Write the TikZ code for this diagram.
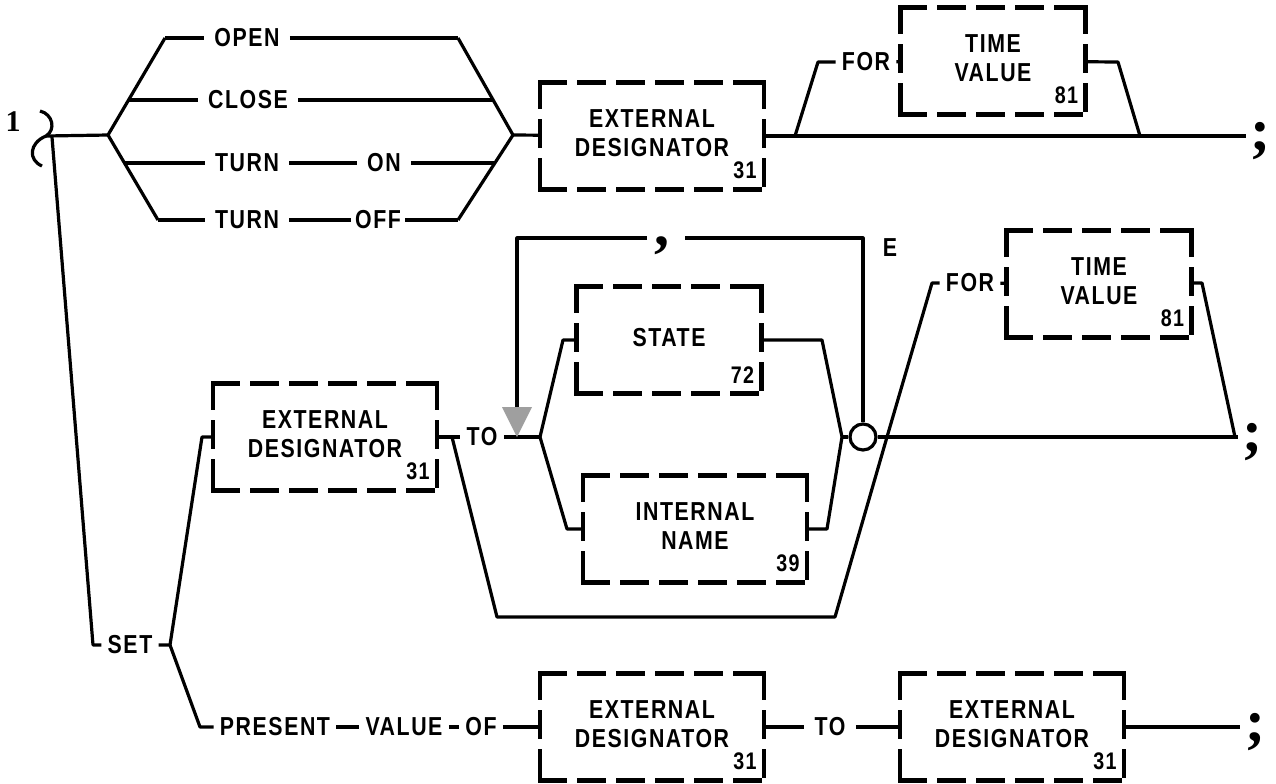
\documentclass[tikz,border=0pt]{standalone}
\usepackage{fontspec}
\setmainfont{Liberation Sans}[FakeStretch=0.82, LetterSpace=6]
\newfontfamily\oldserif{Liberation Serif}

\tikzset{
  wire/.style={line width=1.6pt, line join=round},
  word/.style={font=\bfseries\fontsize{13}{14.5}\selectfont, inner xsep=5pt, inner ysep=1pt},
  dbox/.style={word, align=center, inner sep=0pt, outer sep=0pt, minimum height=53.5pt,
    execute at end node={\rule[-2.5pt]{0pt}{2.5pt}}},
  widebox/.style={dbox, minimum width=112pt},
  narrowbox/.style={dbox, minimum width=92.5pt},
  boxline/.style={line width=2.2pt, line cap=rect, dash pattern=on 12.3pt off 7.2pt},
  num/.style={font=\bfseries\fontsize{12}{12}\selectfont, inner sep=0pt, anchor=south east},
  stopmark/.style={font=\oldserif\bfseries\fontsize{30}{30}\selectfont, inner sep=0pt, anchor=base west},
  ring/.style={circle, draw, line width=1.6pt, minimum size=13pt, inner sep=0pt, fill=white},
}
\newcommand\dashframe[1]{%
  \draw[boxline] (#1.north west) -- (#1.north east);
  \draw[boxline] (#1.north east) -- (#1.south east);
  \draw[boxline] (#1.north west) -- (#1.south west);
  \draw[boxline] (#1.south west) -- (#1.south east);
}

\begin{document}
\begin{tikzpicture}[x=0.5pt, y=-0.5pt]
\useasboundingbox (0,0) rectangle (1276,783);

%% words
\node[word, font=\oldserif\bfseries\fontsize{15}{15}\selectfont] (one) at (13,122) {1};
\node[word] (open) at (247,38) {OPEN};
\node[word] (close) at (248,100) {CLOSE};
\node[word] (turn1) at (247,163) {TURN};
\node[word] (on) at (384,163) {ON};
\node[word] (turn2) at (247,220) {TURN};
\node[word, inner xsep=2pt] (off) at (378,220) {OFF};
\node[word, inner xsep=3pt] (for1) at (866,62) {FOR};
\node[word, inner xsep=3pt] (for2) at (970,283) {FOR};
\node[word] (ee) at (890,248) {E};
\node[word, inner xsep=3pt] (to1) at (482,437) {TO};
\node[word, inner xsep=3pt] (set) at (130,645) {SET};
\node[word, inner xsep=3pt] (present) at (275,727) {PRESENT};
\node[word, inner xsep=3pt] (value) at (404,727) {VALUE};
\node[word, inner xsep=3pt] (of) at (481,727) {OF};
\node[word] (to2) at (830,727) {TO};

%% boxes
\node[widebox] (ed1) at (652,136) {EXTERNAL\\DESIGNATOR};
\node[narrowbox] (tv1) at (993,61) {TIME\\VALUE};
\node[widebox] (ed2) at (325,437) {EXTERNAL\\DESIGNATOR};
\node[narrowbox] (state) at (669,340) {STATE};
\node[widebox] (iname) at (695,529) {INTERNAL\\NAME};
\node[narrowbox] (tv2) at (1099,284) {TIME\\VALUE};
\node[widebox] (ed3) at (652,727) {EXTERNAL\\DESIGNATOR};
\node[widebox] (ed4) at (1012,727) {EXTERNAL\\DESIGNATOR};
\foreach \b in {ed1,tv1,ed2,state,iname,tv2,ed3,ed4} {\dashframe{\b}}
\foreach \b/\n in {ed1/31,tv1/81,ed2/31,state/72,iname/39,tv2/81,ed3/31,ed4/31}
  \node[num] (\b-no) at ([shift={(-3.5pt,5pt)}]\b.south east) {\n};

%% stop marks
\node[stopmark] (stop1) at (1250,150) {;};
\node[stopmark] (stop2) at (1242,451) {;};
\node[stopmark] (stop3) at (1245,741) {;};
\node[stopmark, anchor=base] (sep) at (662,245) {,};
\node[ring] (ring) at (863,437) {};

%% top part
\coordinate (hook) at (46,136);
\coordinate (forkL) at (108,135);
\coordinate (forkR) at (513,135);
\coordinate (openL) at (165,38);  \coordinate (openR) at (458,38);
\coordinate (closeL) at (128,100); \coordinate (closeR) at (493,100);
\coordinate (onL) at (125,163);   \coordinate (onR) at (495,163);
\coordinate (offL) at (158,220);  \coordinate (offR) at (458,220);
\draw[wire] (40,111) .. controls (53,114) and (56,130) .. (hook)
            .. controls (29,143) and (28,160) .. (42,166);
\draw[wire] (hook) -- (forkL);
\draw[wire] (openL) -- (forkL) -- (offL);
\draw[wire] (openR) -- (forkR) -- (offR);
\draw[wire] (openL) -- (open) -- (openR);
\draw[wire] (closeL) -- (close) -- (closeR);
\draw[wire] (onL) -- (turn1) -- (on) -- (onR);
\draw[wire] (offL) -- (turn2) -- (off) -- (offR);
\draw[wire] (forkR) -- (ed1);
\coordinate (end1) at (1246,136);
\coordinate (for1in) at (795,136);  \coordinate (for1top) at (818,62);
\coordinate (for1out) at (1118,62); \coordinate (for1back) at (1140,136);
\draw[wire] (ed1) -- (end1);
\draw[wire] (for1in) -- (for1top) -- (for1) -- (tv1);
\draw[wire] (tv1) -- (for1out) -- (for1back);

%% SET part
\coordinate (drop) at (52,137);
\coordinate (dropB) at (93,645);
\coordinate (forkS) at (170,645);
\coordinate (ed2in) at (202,437);
\coordinate (presL) at (200,727);
\draw[wire] (drop) -- (dropB) -- (set) -- (forkS);
\draw[wire] (forkS) -- (ed2in) -- (ed2);
\draw[wire] (forkS) -- (presL) -- (present);
\draw[wire] (ed2) -- (to1);
\coordinate (byp) at (452,437);
\coordinate (bypL) at (497,617); \coordinate (bypR) at (835,617);
\coordinate (join) at (887,437);
\draw[wire] (byp) -- (bypL) -- (bypR) -- (join);
\coordinate (forkT) at (540,437);
\draw[wire] (to1) -- (forkT);
\coordinate (stL) at (563,340); \coordinate (stR) at (822,340);
\coordinate (inL) at (567,529); \coordinate (inR) at (827,529);
\coordinate (merge) at (842,437);
\draw[wire] (forkT) -- (stL) -- (state) -- (stR) -- (merge);
\draw[wire] (forkT) -- (inL) -- (iname) -- (inR) -- (merge);
\draw[wire] (merge) -- (ring) -- (join);
%% loop back
\coordinate (loopTL) at (517,238); \coordinate (loopTR) at (863,238);
\coordinate (sepL) at (647,238);   \coordinate (sepR) at (685,238);
\coordinate (triTop) at (517,408); \coordinate (loopTip) at (517,437);
\draw[wire] (ring) -- (loopTR) -- (sepR);
\draw[wire] (sepL) -- (loopTL) -- (triTop);
\fill[gray!75] (502,407) -- (532,407) -- (loopTip) -- cycle;
\coordinate (end2) at (1238,437);
\coordinate (for2top) at (932,283);
\coordinate (for2out) at (1202,283); \coordinate (for2back) at (1235,437);
\draw[wire] (join) -- (end2);
\draw[wire] (join) -- (for2top) -- (for2) -- (tv2);
\draw[wire] (tv2) -- (for2out) -- (for2back);

%% PRESENT VALUE OF
\coordinate (end3) at (1240,727);
\draw[wire] (present) -- (value) -- (of) -- (ed3) -- (to2) -- (ed4) -- (end3);
\end{tikzpicture}
\end{document}
